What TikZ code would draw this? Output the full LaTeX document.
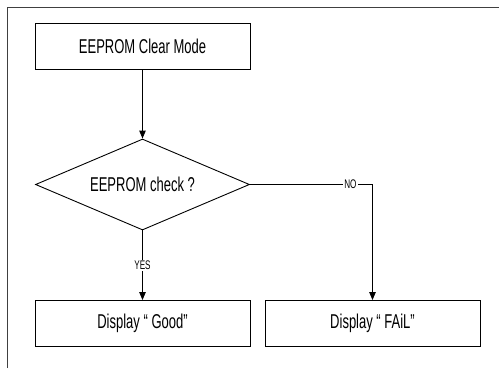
\documentclass[tikz,border=0pt]{standalone}
\usepackage{fontspec}
\setmainfont{Liberation Sans}[FakeStretch=0.65]
\usetikzlibrary{shapes.geometric, arrows.meta}

\tikzset{
  box/.style={draw=black, line width=0.9pt, minimum width=215pt, minimum height=46pt, inner sep=0pt, font=\fontsize{20}{23}\selectfont},
  decision/.style={draw=black, line width=0.9pt, diamond, aspect=2.35, minimum width=214pt, minimum height=91pt, inner sep=0pt, font=\fontsize{20}{23}\selectfont},
  arr/.style={draw=black, line width=0.9pt, -{Triangle[length=8pt,width=6.5pt]}},
  lbl/.style={fill=white, inner sep=1pt, font=\fontsize{12.5}{14}\selectfont}
}

\begin{document}
\begin{tikzpicture}[x=1pt, y=-1pt]
\useasboundingbox (0,0) rectangle (499,368);
\draw [draw=black!75, line width=0.9pt] (7,368) -- (7,7) -- (499,7);
\node [box] (mode) at (142.5,46) {EEPROM Clear Mode};
\node [decision] (chk) at (142.5,184.5) {EEPROM check ?};
\node [box] (good) at (142.5,323.5) {Display “ Good”};
\node [box] (fail) at (372.5,323.5) {Display “ FAiL”};
\draw [arr] (mode) -- (chk);
\draw [arr] (chk.south) -- node [lbl] {YES} (good);
\draw [arr] (chk.east) -| node [lbl, pos=0.41] {NO} (fail.north);
\end{tikzpicture}
\end{document}
